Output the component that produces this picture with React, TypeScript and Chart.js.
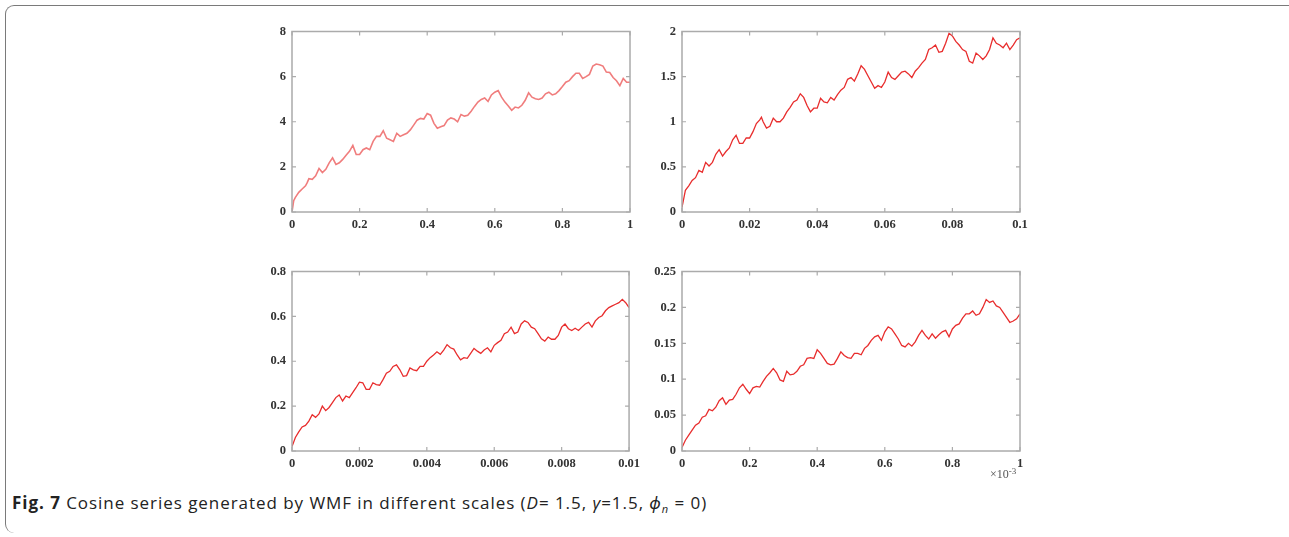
import React, { useEffect, useRef } from "react";
import { Chart, registerables } from "chart.js";
Chart.register(...registerables);

type Pt = [number, number];

// Panel A: x in [0, 1], y in [0, 8]
const SERIES_A: Pt[] = [
  [0, 0], [0.005, 0.5], [0.01, 0.65], [0.02, 0.87], [0.03, 1.02], [0.04, 1.16], [0.045, 1.3], [0.05, 1.48],
  [0.06, 1.45], [0.07, 1.6], [0.08, 1.93], [0.09, 1.75], [0.1, 1.89], [0.11, 2.18], [0.12, 2.4], [0.13, 2.11],
  [0.14, 2.18], [0.15, 2.33], [0.16, 2.52], [0.17, 2.69], [0.18, 2.95], [0.19, 2.55], [0.2, 2.55], [0.21, 2.76],
  [0.22, 2.84], [0.23, 2.76], [0.24, 3.13], [0.25, 3.35], [0.26, 3.35], [0.27, 3.6], [0.28, 3.27], [0.29, 3.2],
  [0.3, 3.13], [0.31, 3.49], [0.32, 3.35], [0.33, 3.42], [0.34, 3.49], [0.35, 3.64], [0.36, 3.85], [0.37, 4.07],
  [0.38, 4.15], [0.39, 4.12], [0.4, 4.36], [0.41, 4.29], [0.42, 3.93], [0.43, 3.71], [0.44, 3.78], [0.45, 3.83],
  [0.46, 4.07], [0.47, 4.17], [0.48, 4.12], [0.49, 4.0], [0.5, 4.32], [0.51, 4.25], [0.52, 4.29], [0.53, 4.47],
  [0.54, 4.68], [0.55, 4.87], [0.56, 4.99], [0.57, 5.05], [0.58, 4.9], [0.59, 5.19], [0.6, 5.31], [0.61, 5.38],
  [0.62, 5.09], [0.63, 4.87], [0.64, 4.7], [0.65, 4.51], [0.66, 4.65], [0.67, 4.61], [0.68, 4.73], [0.69, 4.95],
  [0.7, 5.28], [0.71, 5.09], [0.72, 5.02], [0.73, 4.99], [0.74, 5.05], [0.75, 5.24], [0.76, 5.31], [0.77, 5.19],
  [0.78, 5.24], [0.79, 5.38], [0.8, 5.56], [0.81, 5.75], [0.82, 5.82], [0.83, 6.0], [0.84, 6.15], [0.85, 6.15],
  [0.86, 5.92], [0.87, 6.0], [0.88, 6.1], [0.89, 6.47], [0.9, 6.56], [0.91, 6.53], [0.92, 6.47], [0.93, 6.2],
  [0.94, 6.18], [0.95, 5.96], [0.96, 5.82], [0.97, 5.6], [0.98, 5.92], [0.99, 5.75], [1.0, 5.75],
];

// Panel B: x in [0, 0.1], y in [0, 2]
const SERIES_B: Pt[] = [
  [0, 0.05], [0.001, 0.24], [0.002, 0.29], [0.003, 0.35], [0.004, 0.38], [0.005, 0.46], [0.006, 0.44], [0.007, 0.55],
  [0.008, 0.51], [0.009, 0.55], [0.01, 0.64], [0.011, 0.69], [0.012, 0.62], [0.013, 0.67], [0.014, 0.71], [0.015, 0.8],
  [0.016, 0.85], [0.017, 0.76], [0.018, 0.76], [0.019, 0.82], [0.02, 0.82], [0.021, 0.89], [0.022, 0.98], [0.023, 1.02],
  [0.0235, 1.05], [0.024, 1.0], [0.025, 0.93], [0.026, 0.95], [0.027, 1.04], [0.028, 1.0], [0.029, 1.0], [0.03, 1.04],
  [0.031, 1.11], [0.032, 1.16], [0.033, 1.22], [0.034, 1.24], [0.035, 1.31], [0.036, 1.27], [0.037, 1.18], [0.038, 1.11],
  [0.039, 1.15], [0.04, 1.15], [0.041, 1.26], [0.042, 1.22], [0.043, 1.21], [0.044, 1.27], [0.045, 1.24], [0.046, 1.3],
  [0.047, 1.35], [0.048, 1.38], [0.049, 1.47], [0.05, 1.49], [0.051, 1.45], [0.052, 1.53], [0.053, 1.62], [0.054, 1.58],
  [0.055, 1.51], [0.056, 1.44], [0.057, 1.37], [0.058, 1.4], [0.059, 1.38], [0.06, 1.44], [0.061, 1.55], [0.062, 1.49],
  [0.063, 1.47], [0.064, 1.51], [0.065, 1.55], [0.066, 1.56], [0.067, 1.53], [0.068, 1.49], [0.069, 1.56], [0.07, 1.6],
  [0.071, 1.65], [0.072, 1.69], [0.073, 1.8], [0.074, 1.82], [0.075, 1.85], [0.076, 1.77], [0.077, 1.78], [0.078, 1.87],
  [0.079, 1.98], [0.08, 1.95], [0.081, 1.89], [0.082, 1.85], [0.083, 1.8], [0.084, 1.78], [0.085, 1.67], [0.086, 1.65],
  [0.087, 1.76], [0.088, 1.73], [0.089, 1.69], [0.09, 1.73], [0.091, 1.8], [0.092, 1.93], [0.093, 1.87], [0.094, 1.85],
  [0.095, 1.82], [0.096, 1.87], [0.097, 1.8], [0.098, 1.85], [0.099, 1.91], [0.1, 1.93],
];

// Panel C: x in [0, 0.01], y in [0, 0.8]
const SERIES_C: Pt[] = [
  [0, 0.02], [0.0001, 0.06], [0.0002, 0.085], [0.0003, 0.107], [0.0004, 0.114], [0.0005, 0.133], [0.0006, 0.162],
  [0.0007, 0.15], [0.0008, 0.165], [0.0009, 0.2], [0.001, 0.18], [0.0011, 0.194], [0.0012, 0.216], [0.0013, 0.238],
  [0.0014, 0.25], [0.0015, 0.223], [0.0016, 0.245], [0.0017, 0.238], [0.0018, 0.26], [0.0019, 0.282], [0.002, 0.307],
  [0.0021, 0.304], [0.0022, 0.275], [0.0023, 0.275], [0.0024, 0.304], [0.0025, 0.296], [0.0026, 0.293], [0.0027, 0.318],
  [0.0028, 0.347], [0.0029, 0.355], [0.003, 0.377], [0.0031, 0.384], [0.0032, 0.362], [0.0033, 0.333], [0.0034, 0.336],
  [0.0035, 0.37], [0.0036, 0.362], [0.0037, 0.358], [0.0038, 0.377], [0.0039, 0.377], [0.004, 0.4], [0.0041, 0.416],
  [0.0042, 0.428], [0.0043, 0.442], [0.0044, 0.431], [0.0045, 0.45], [0.0046, 0.474], [0.0047, 0.46], [0.0048, 0.454],
  [0.0049, 0.428], [0.005, 0.406], [0.0051, 0.416], [0.0052, 0.413], [0.0053, 0.435], [0.0054, 0.457], [0.0055, 0.445],
  [0.0056, 0.435], [0.0057, 0.45], [0.0058, 0.46], [0.0059, 0.442], [0.006, 0.471], [0.0061, 0.483], [0.0062, 0.493],
  [0.0063, 0.523], [0.0064, 0.53], [0.0065, 0.552], [0.0066, 0.523], [0.0067, 0.53], [0.0068, 0.566], [0.0069, 0.58],
  [0.007, 0.573], [0.0071, 0.552], [0.0072, 0.545], [0.0073, 0.523], [0.0074, 0.5], [0.0075, 0.49], [0.0076, 0.508],
  [0.0077, 0.498], [0.0078, 0.498], [0.0079, 0.515], [0.008, 0.552], [0.0081, 0.566], [0.0082, 0.545], [0.0083, 0.537],
  [0.0084, 0.547], [0.0085, 0.537], [0.0086, 0.552], [0.0087, 0.566], [0.0088, 0.573], [0.0089, 0.552], [0.009, 0.58],
  [0.0091, 0.595], [0.0092, 0.603], [0.0093, 0.625], [0.0094, 0.639], [0.0095, 0.647], [0.0096, 0.654], [0.0097, 0.661],
  [0.0098, 0.676], [0.0099, 0.661], [0.01, 0.639],
];

// Panel D: x in [0, 1] (x 10^-3), y in [0, 0.25]
const SERIES_D: Pt[] = [
  [0, 0.005], [0.01, 0.015], [0.02, 0.022], [0.03, 0.029], [0.04, 0.036], [0.05, 0.039], [0.06, 0.047], [0.07, 0.049],
  [0.08, 0.058], [0.09, 0.056], [0.1, 0.061], [0.11, 0.07], [0.12, 0.074], [0.13, 0.065], [0.14, 0.071], [0.15, 0.072],
  [0.16, 0.079], [0.17, 0.088], [0.18, 0.093], [0.19, 0.086], [0.2, 0.08], [0.21, 0.088], [0.22, 0.09], [0.23, 0.089],
  [0.24, 0.097], [0.25, 0.104], [0.26, 0.109], [0.27, 0.115], [0.28, 0.109], [0.29, 0.099], [0.3, 0.097], [0.31, 0.111],
  [0.32, 0.106], [0.33, 0.107], [0.34, 0.111], [0.35, 0.118], [0.36, 0.12], [0.37, 0.129], [0.38, 0.13], [0.39, 0.129],
  [0.4, 0.141], [0.41, 0.136], [0.42, 0.129], [0.43, 0.122], [0.44, 0.12], [0.45, 0.121], [0.46, 0.129], [0.47, 0.138],
  [0.48, 0.133], [0.49, 0.13], [0.5, 0.129], [0.51, 0.136], [0.52, 0.136], [0.53, 0.134], [0.54, 0.143], [0.55, 0.147],
  [0.56, 0.154], [0.57, 0.159], [0.58, 0.161], [0.59, 0.154], [0.6, 0.166], [0.61, 0.173], [0.62, 0.17], [0.63, 0.163],
  [0.64, 0.156], [0.65, 0.147], [0.66, 0.145], [0.67, 0.15], [0.68, 0.146], [0.69, 0.152], [0.7, 0.161], [0.71, 0.168],
  [0.72, 0.161], [0.73, 0.156], [0.74, 0.163], [0.75, 0.157], [0.76, 0.162], [0.77, 0.166], [0.78, 0.168], [0.79, 0.159],
  [0.8, 0.17], [0.81, 0.175], [0.82, 0.177], [0.83, 0.185], [0.84, 0.191], [0.85, 0.191], [0.86, 0.195], [0.87, 0.189],
  [0.88, 0.191], [0.89, 0.2], [0.9, 0.211], [0.91, 0.207], [0.92, 0.209], [0.93, 0.202], [0.94, 0.2], [0.95, 0.193],
  [0.96, 0.186], [0.97, 0.179], [0.98, 0.181], [0.99, 0.184], [1.0, 0.191],
];

const X_TICKS_A = [0, 0.2, 0.4, 0.6, 0.8, 1];
const X_LABELS_A = ["0", "0.2", "0.4", "0.6", "0.8", "1"];
const Y_TICKS_A = [0, 2, 4, 6, 8];
const Y_LABELS_A = ["0", "2", "4", "6", "8"];

const X_TICKS_B = [0, 0.02, 0.04, 0.06, 0.08, 0.1];
const X_LABELS_B = ["0", "0.02", "0.04", "0.06", "0.08", "0.1"];
const Y_TICKS_B = [0, 0.5, 1, 1.5, 2];
const Y_LABELS_B = ["0", "0.5", "1", "1.5", "2"];

const X_TICKS_C = [0, 0.002, 0.004, 0.006, 0.008, 0.01];
const X_LABELS_C = ["0", "0.002", "0.004", "0.006", "0.008", "0.01"];
const Y_TICKS_C = [0, 0.2, 0.4, 0.6, 0.8];
const Y_LABELS_C = ["0", "0.2", "0.4", "0.6", "0.8"];

const X_TICKS_D = [0, 0.2, 0.4, 0.6, 0.8, 1];
const X_LABELS_D = ["0", "0.2", "0.4", "0.6", "0.8", "1"];
const Y_TICKS_D = [0, 0.05, 0.1, 0.15, 0.2, 0.25];
const Y_LABELS_D = ["0", "0.05", "0.1", "0.15", "0.2", "0.25"];

const PAD_L = 40;
const PAD_R = 15;
const PAD_T = 10;
const X_AXIS_H = 25;

const tickFont = { family: "'Liberation Serif', 'Times New Roman', serif", weight: "bold" as const, size: 12.5 };

const framePlugin = {
  id: "matlabFrame",
  afterDatasetsDraw(chart: any) {
    const { ctx, chartArea } = chart;
    const { left, right, top, bottom } = chartArea;
    const xs = chart.scales.x;
    const ys = chart.scales.y;
    ctx.save();
    ctx.strokeStyle = "#ababab";
    ctx.lineWidth = 1.5;
    ctx.strokeRect(left, top, right - left, bottom - top);
    ctx.lineWidth = 1.2;
    ctx.beginPath();
    const tl = 4;
    xs.ticks.forEach((t: any) => {
      const px = xs.getPixelForValue(t.value);
      ctx.moveTo(px, bottom);
      ctx.lineTo(px, bottom - tl);
      ctx.moveTo(px, top);
      ctx.lineTo(px, top + tl);
    });
    ys.ticks.forEach((t: any) => {
      const py = ys.getPixelForValue(t.value);
      ctx.moveTo(left, py);
      ctx.lineTo(left + tl, py);
      ctx.moveTo(right, py);
      ctx.lineTo(right - tl, py);
    });
    ctx.stroke();
    ctx.restore();
  },
};

type PanelProps = {
  axLeft: number;
  axTop: number;
  axRight: number;
  axBottom: number;
  series: Pt[];
  color: string;
  lineWidth: number;
  xTicks: number[];
  xLabels: string[];
  yTicks: number[];
  yLabels: string[];
};

function Panel(p: PanelProps) {
  const ref = useRef<HTMLCanvasElement>(null);
  const cLeft = p.axLeft - PAD_L;
  const cTop = p.axTop - PAD_T;
  const W = p.axRight - cLeft + PAD_R;
  const H = p.axBottom - cTop + X_AXIS_H;

  useEffect(() => {
    if (!ref.current) return;
    const chart = new Chart(ref.current, {
      type: "line",
      data: {
        datasets: [
          {
            data: p.series.map(([x, y]) => ({ x, y })),
            borderColor: p.color,
            borderWidth: p.lineWidth,
            pointRadius: 0,
            tension: 0,
            fill: false,
          },
        ],
      },
      options: {
        animation: false,
        responsive: false,
        maintainAspectRatio: false,
        layout: { padding: { left: 0, right: PAD_R, top: PAD_T, bottom: 0 } },
        plugins: { legend: { display: false }, tooltip: { enabled: false } },
        scales: {
          x: {
            type: "linear",
            min: p.xTicks[0],
            max: p.xTicks[p.xTicks.length - 1],
            grid: { display: false, drawTicks: false },
            border: { display: false },
            afterBuildTicks: (s: any) => {
              s.ticks = p.xTicks.map((v) => ({ value: v }));
            },
            afterFit: (s: any) => {
              s.height = X_AXIS_H;
            },
            ticks: {
              padding: 5,
              maxRotation: 0,
              autoSkip: false,
              color: "#333",
              font: tickFont,
              callback: (_v: any, i: number) => p.xLabels[i],
            },
          },
          y: {
            type: "linear",
            min: p.yTicks[0],
            max: p.yTicks[p.yTicks.length - 1],
            grid: { display: false, drawTicks: false },
            border: { display: false },
            afterBuildTicks: (s: any) => {
              s.ticks = p.yTicks.map((v) => ({ value: v }));
            },
            afterFit: (s: any) => {
              s.width = PAD_L;
            },
            ticks: {
              padding: 6,
              autoSkip: false,
              color: "#333",
              font: tickFont,
              callback: (_v: any, i: number) => p.yLabels[i],
            },
          },
        },
      },
      plugins: [framePlugin],
    } as any);
    return () => chart.destroy();
  }, []);

  return (
    <div style={{ position: "absolute", left: cLeft, top: cTop, width: W, height: H }}>
      <canvas ref={ref} width={W} height={H} style={{ width: W, height: H, display: "block" }} />
    </div>
  );
}

export default function App() {
  return (
    <div style={{ position: "absolute", left: 0, top: 0, width: 1289, height: 537, background: "#fff", overflow: "hidden" }}>
      <div
        style={{
          position: "absolute",
          left: 5,
          top: 5,
          width: 1300,
          height: 528,
          borderTop: "1.5px solid #7a7a7a",
          borderLeft: "1.5px solid #7a7a7a",
          borderTopLeftRadius: 9,
          borderBottomLeftRadius: 9,
          boxSizing: "border-box",
        }}
      />
      <Panel axLeft={292} axTop={28} axRight={630} axBottom={212} series={SERIES_A} color="rgb(240,125,125)" lineWidth={1.6}
        xTicks={X_TICKS_A} xLabels={X_LABELS_A} yTicks={Y_TICKS_A} yLabels={Y_LABELS_A} />
      <Panel axLeft={682} axTop={28} axRight={1020} axBottom={212} series={SERIES_B} color="rgb(232,45,45)" lineWidth={1.3}
        xTicks={X_TICKS_B} xLabels={X_LABELS_B} yTicks={Y_TICKS_B} yLabels={Y_LABELS_B} />
      <Panel axLeft={292} axTop={268} axRight={630} axBottom={451} series={SERIES_C} color="rgb(232,45,45)" lineWidth={1.3}
        xTicks={X_TICKS_C} xLabels={X_LABELS_C} yTicks={Y_TICKS_C} yLabels={Y_LABELS_C} />
      <Panel axLeft={682} axTop={268} axRight={1020} axBottom={451} series={SERIES_D} color="rgb(232,45,45)" lineWidth={1.3}
        xTicks={X_TICKS_D} xLabels={X_LABELS_D} yTicks={Y_TICKS_D} yLabels={Y_LABELS_D} />
      <div
        style={{
          position: "absolute",
          left: 990,
          top: 465,
          fontFamily: "'Liberation Serif', serif",
          fontSize: 12,
          color: "#555",
          lineHeight: "13px",
          whiteSpace: "nowrap",
        }}
      >
        ×10<sup style={{ fontSize: 9, verticalAlign: "4px" }}>-3</sup>
      </div>
      <div
        style={{
          position: "absolute",
          left: 12,
          top: 492,
          fontFamily: "'Open Sans', 'Noto Sans', sans-serif",
          fontSize: 17,
          letterSpacing: "0.95px",
          color: "#222",
          whiteSpace: "nowrap",
          lineHeight: "22px",
        }}
      >
        <b>Fig. 7</b> Cosine series generated by WMF in different scales (<i>D</i>= 1.5, <i>γ</i>=1.5, <i>ϕ</i>
        <sub style={{ fontSize: 11 }}><i>n</i></sub> = 0)
      </div>
    </div>
  );
}
